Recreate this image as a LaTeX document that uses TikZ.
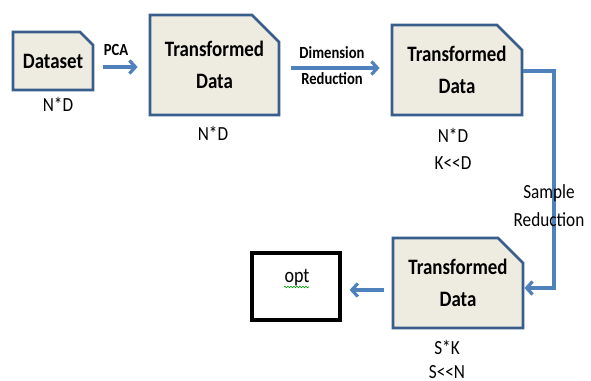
\documentclass[tikz,border=0pt]{standalone}
\usepackage{fontspec}
\setmainfont{Carlito}[FakeStretch=0.86]
\usetikzlibrary{shapes.misc,arrows.meta,decorations.pathmorphing}
\definecolor{boxfill}{HTML}{EEECE1}
\definecolor{boxline}{HTML}{3A5E8C}
\definecolor{arrline}{HTML}{4F81BD}
\begin{document}
\begin{tikzpicture}[x=1pt,y=-1pt,
  databox/.style={chamfered rectangle, chamfered rectangle corners=north east,
    draw=boxline, fill=boxfill, line width=2.8pt, inner sep=0pt, align=center,
    font=\fontsize{22}{32}\selectfont\bfseries},
  note/.style={font=\fontsize{20}{22}\selectfont, align=center},
  lab/.style={font=\fontsize{17}{26}\selectfont\bfseries, align=center},
  arr/.style={draw=arrline, line width=3.2pt, -{Straight Barb[length=6pt,width=13pt]}},
  optbox/.style={draw=black, line width=3.2pt, fill=white, minimum width=88pt, minimum height=67pt, inner sep=0pt}
]
\useasboundingbox (0,0) rectangle (591,380);
\fill[white] (0,0) rectangle (591,380);

\node[databox, minimum width=80pt, minimum height=58pt,
  chamfered rectangle xsep=6pt, chamfered rectangle ysep=7pt] (ds) at (53,61) {Dataset};
\node[databox, minimum width=129pt, minimum height=100pt,
  chamfered rectangle xsep=12pt, chamfered rectangle ysep=15pt] (td1) at (214.5,65) {Transformed\\Data};
\node[databox, minimum width=130pt, minimum height=90pt,
  chamfered rectangle xsep=12pt, chamfered rectangle ysep=13pt] (td2) at (457,70) {Transformed\\Data};
\node[databox, minimum width=130pt, minimum height=90pt,
  chamfered rectangle xsep=11pt, chamfered rectangle ysep=14pt] (td3) at (458,283) {Transformed\\Data};
\node[optbox] (opt) at (296,286.5) {};
\node[note, font=\fontsize{21}{22}\selectfont] (optt) at (297,278) {opt};
\draw[green!60!black, line width=0.6pt, decorate, decoration={snake, amplitude=0.8pt, segment length=3pt}]
  ([xshift=-13pt,yshift=-9pt]optt.center) -- ([xshift=12pt,yshift=-9pt]optt.center);

\node[note] (n1) at (58,104) {N*D};
\node[note] (n2) at (213,133) {N*D};
\node[note] (n3) at (453,135) {N*D};
\node[note] (n4) at (453,163) {K{<}{<}D};
\node[note] (n5) at (447,347) {S*K};
\node[note] (n6) at (447,372) {S{<}{<}N};

% PCA
\draw[arr, shorten <=9pt, shorten >=11pt] ([yshift=-6pt]ds.east) -- ([yshift=-6pt]ds.east -| td1.west);
\node[lab] (pca) at (116,50) {PCA};
% Dimension reduction
\draw[arr, shorten <=11pt, shorten >=11pt] ([yshift=-3pt]td1.east) -- ([yshift=-3pt]td1.east -| td2.west);
\node[lab] (dr) at (332,66) {Dimension\\Reduction};
% Sample reduction
\coordinate (c1) at (554,71);
\coordinate (c2) at (554,288);
\draw[arr] ([yshift=-1pt]td2.east) -- (c1) -- (c2) -- (c2 -| td3.east);
\node[note, font=\fontsize{20}{28}\selectfont] (sr) at (549,206) {Sample\\Reduction};
% to opt
\draw[arr, shorten <=8pt, shorten >=8pt] ([yshift=-7pt]td3.west) -- ([yshift=-7pt]td3.west -| opt.east);
\end{tikzpicture}
\end{document}
